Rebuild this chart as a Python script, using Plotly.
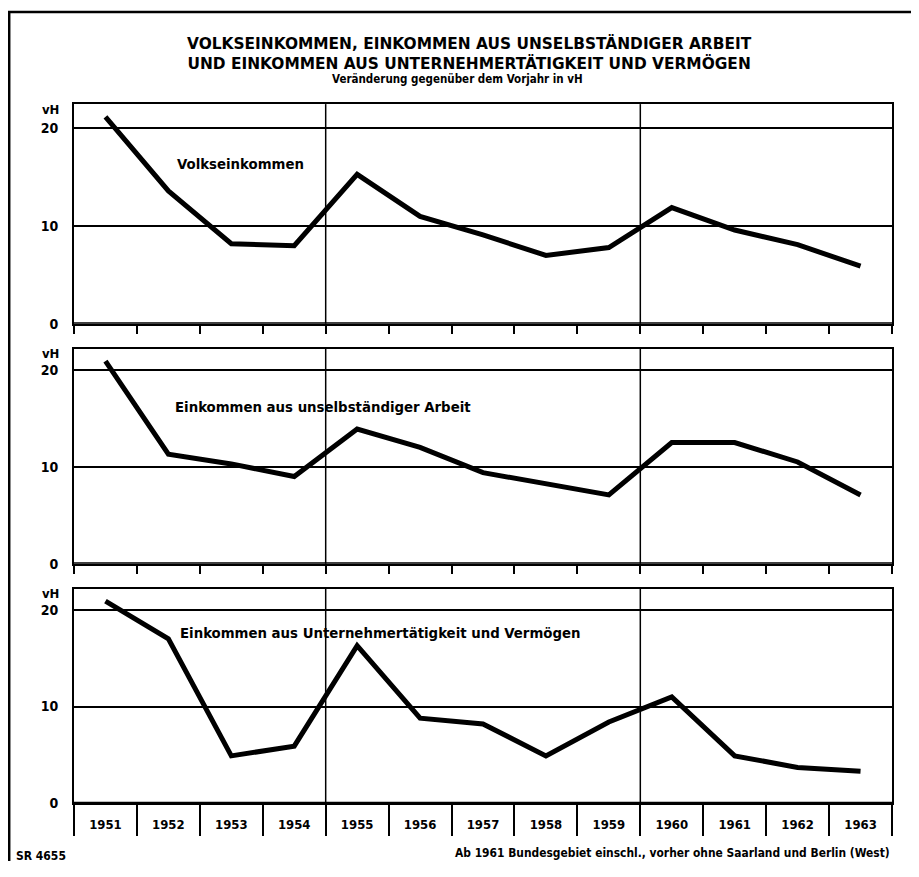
import plotly.graph_objects as go

# ---------------- data ----------------
years = ["1951", "1952", "1953", "1954", "1955", "1956", "1957",
         "1958", "1959", "1960", "1961", "1962", "1963"]
volkseinkommen = [21.2, 13.6, 8.2, 8.0, 15.3, 11.0, 9.1, 7.0, 7.8, 11.9, 9.6, 8.1, 5.9]
unselbst_arbeit = [20.9, 11.3, 10.3, 9.0, 13.9, 12.0, 9.4, 8.2, 7.1, 12.5, 12.5, 10.5, 7.1]
unternehmer = [20.9, 17.0, 4.9, 5.9, 16.3, 8.8, 8.2, 4.9, 8.4, 11.0, 4.9, 3.7, 3.3]
y_ticks = [0, 10, 20]
y_ticktext = ["0", "10", "20"]
panel_labels = ["Volkseinkommen",
                "Einkommen aus unselbständiger Arbeit",
                "Einkommen aus Unternehmertätigkeit und Vermögen"]
title_1 = "VOLKSEINKOMMEN, EINKOMMEN AUS UNSELBSTÄNDIGER ARBEIT"
title_2 = "UND EINKOMMEN AUS UNTERNEHMERTÄTIGKEIT UND VERMÖGEN"
subtitle = "Veränderung gegenüber dem Vorjahr in vH"
footnote = "Ab 1961 Bundesgebiet einschl., vorher ohne Saarland und Berlin (West)"
code_note = "SR 4655"
section_starts = ["1955", "1960"]

# ---------------- layout helpers ----------------
# The page body keeps its default 8px margin: the figure is sized so that
# margin + figure + margin is exactly the 919x877 window.
OFF = 8
W, H = 919 - OFF, 877 - 2 * OFF
def px(x):
    return (x - OFF) / W
def py(y):
    return 1 - (y - OFF) / H

FONT = "DejaVu Sans Condensed, DejaVu Sans, sans-serif"
FONT_WIDE = "DejaVu Sans, sans-serif"
BLACK = "#000000"

x_dom = [px(74), px(892)]
panels = [  # (top px, bottom px, y max)
    (105, 326.7, 22.5),
    (351.7, 569, 22.2),
    (594, 810.7, 22.2),
]

series = [volkseinkommen, unselbst_arbeit, unternehmer]

fig = go.Figure()
for i, vals in enumerate(series):
    sfx = "" if i == 0 else str(i + 1)
    fig.add_trace(go.Scatter(
        x=years, y=vals, mode="lines",
        line=dict(color=BLACK, width=5),
        xaxis="x" + sfx, yaxis="y" + sfx,
        showlegend=False, hoverinfo="skip",
    ))

layout = dict(
    width=W, height=H,
    margin=dict(l=0, r=0, t=0, b=0),
    paper_bgcolor="white", plot_bgcolor="white",
    font=dict(family=FONT, color=BLACK),
    showlegend=False,
)

shapes = []
annotations = []
for i, (top, bot, ymax) in enumerate(panels):
    sfx = "" if i == 0 else str(i + 1)
    last = (i == len(panels) - 1)
    xa = dict(
        domain=x_dom, anchor="y" + sfx, type="category",
        categoryorder="array", categoryarray=years,
        range=[-0.5, len(years) - 0.5],
        showgrid=False, zeroline=False,
        showline=True, mirror=True, linecolor=BLACK, linewidth=2,
        ticks="outside", tickson="boundaries", tickcolor=BLACK, tickwidth=2,
        ticklen=31 if last else 8,
        showticklabels=last,
        tickfont=dict(family=FONT, size=13, color=BLACK, weight="bold"),
    )
    if last:
        xa["ticklabelstandoff"] = 8
    ya = dict(
        domain=[py(bot), py(top)], anchor="x" + sfx,
        range=[0, ymax], tickmode="array", tickvals=y_ticks, ticktext=y_ticktext,
        showgrid=True, gridcolor=BLACK, gridwidth=2,
        zeroline=False,
        showline=True, mirror=True, linecolor=BLACK, linewidth=2,
        ticks="", ticklabelstandoff=11,
        tickfont=dict(family=FONT, size=14, color=BLACK, weight="bold"),
    )
    layout["xaxis" + sfx] = xa
    layout["yaxis" + sfx] = ya

    # vertical section lines between 1954/1955 and 1959/1960
    for s in section_starts:
        xb = years.index(s) - 0.5
        shapes.append(dict(type="line", xref="x" + sfx, yref="y" + sfx + " domain",
                           x0=xb, x1=xb, y0=0, y1=1,
                           line=dict(color=BLACK, width=1.5), layer="below"))
    # thicker baseline
    shapes.append(dict(type="line", xref="x" + sfx + " domain", yref="y" + sfx,
                       x0=0, x1=1, y0=0, y1=0, line=dict(color=BLACK, width=3)))
    # vH unit label
    annotations.append(dict(text="vH", xref="paper", yref="paper",
                            x=px(61), y=py(top + 5), xanchor="right", yanchor="middle",
                            showarrow=False,
                            font=dict(family=FONT, size=13, color=BLACK, weight="bold")))

# panel series labels
label_pos = [(175, 165), (173, 410), (178, 638)]
for (lx, ly), txt in zip(label_pos, panel_labels):
    annotations.append(dict(text=txt, xref="paper", yref="paper",
                            x=px(lx), y=py(ly), xanchor="left", yanchor="middle",
                            showarrow=False,
                            font=dict(family=FONT, size=14.8, color=BLACK, weight="bold")))

# titles
annotations += [
    dict(text=title_1 + "<br>" + title_2, xref="paper", yref="paper",
         x=px(469), y=py(53.5), xanchor="center", yanchor="middle", showarrow=False,
         font=dict(family=FONT_WIDE, size=15.4, color=BLACK, weight="bold")),
    dict(text=subtitle, xref="paper", yref="paper", x=px(457), y=py(80),
         xanchor="center", yanchor="middle", showarrow=False,
         font=dict(family=FONT, size=11.5, color=BLACK, weight="bold")),
    dict(text=footnote, xref="paper", yref="paper", x=px(892), y=py(861),
         xanchor="right", yanchor="middle", showarrow=False,
         font=dict(family=FONT, size=11.9, color=BLACK, weight="bold")),
    dict(text=code_note, xref="paper", yref="paper", x=px(14), y=py(864),
         xanchor="left", yanchor="middle", showarrow=False,
         font=dict(family=FONT, size=12, color=BLACK, weight="bold")),
]

# outer frame (top and left edges)
shapes += [
    dict(type="line", xref="paper", yref="paper", x0=0, x1=1, y0=py(12), y1=py(12),
         line=dict(color=BLACK, width=2.5)),
    dict(type="line", xref="paper", yref="paper", x0=px(9.2), x1=px(9.2), y0=py(12), y1=0,
         line=dict(color=BLACK, width=2.5)),
]

layout["shapes"] = shapes
layout["annotations"] = annotations
fig.update_layout(**layout)

fig.write_html("out.html", config={"displayModeBar": False})
